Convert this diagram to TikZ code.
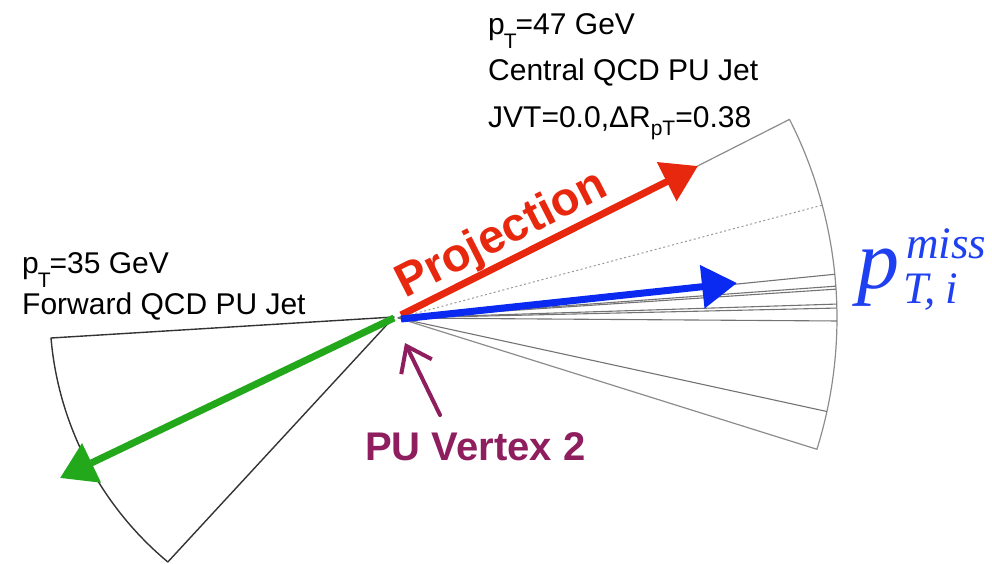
\documentclass[tikz,border=0pt]{standalone}
\usepackage{fontspec}
\setmainfont{Liberation Sans}
\newfontfamily\serifit{Liberation Serif}
\usetikzlibrary{arrows.meta}
\definecolor{projred}{HTML}{E8280E}
\definecolor{metblue}{HTML}{0A2AF2}
\definecolor{txtblue}{HTML}{1E40F0}
\definecolor{jetgreen}{HTML}{22A81A}
\definecolor{vtxpurple}{HTML}{8E1E5E}
\newcommand\subtxt[1]{\raisebox{-14pt}{\fontsize{21}{21}\selectfont #1}}
\begin{document}
\begin{tikzpicture}[x=1pt,y=-1pt,
  sectorR/.style={draw=black!45,line width=1.2pt,line join=round},
  innerline/.style={draw=black!55,line width=1.1pt},
  dotline/.style={draw=black!40,line width=1pt,dash pattern=on 2pt off 2.5pt},
  sectorL/.style={draw=black!80,line width=1.4pt,line join=round},
  fatarrow/.style={line width=7pt,-{Triangle[length=35pt,width=42pt]}},
  vtxarrow/.style={draw=vtxpurple,line width=4pt,line cap=round,-{Straight Barb[length=23pt,width=34pt]}},
  labeltxt/.style={anchor=base west,inner sep=0pt,font=\fontsize{30}{30}\selectfont}
]
\useasboundingbox (0,0) rectangle (992,564);
\coordinate (O) at (398,318);
\coordinate (OL) at (394,317);
% right sector
\draw[sectorR] (O) -- ++(-26.9:439) arc[start angle=-26.9,end angle=17.4,radius=439] -- cycle;
\draw[dotline] (O) -- ++(-14.9:439);
\foreach \a in {-5.72,-4.16,-3.77,-1.82,-1.30,0.39,12.3}
  \draw[innerline] (O) -- ++(\a:439);
% left sector
\draw[sectorL] (OL) -- (51,338) arc[start angle=175.1,end angle=129.8,radius=328] -- cycle;
% arrows
\coordinate (redtail) at (401,315);
\coordinate (redtip) at (698,166);
\coordinate (bluetail) at (401,319);
\coordinate (bluetip) at (737,283);
\coordinate (greentail) at (394,318);
\coordinate (greentip) at (60,478);
\draw[fatarrow,draw=jetgreen,fill=jetgreen] (greentail) -- (greentip);
\draw[fatarrow,draw=projred,fill=projred] (redtail) -- (redtip);
\draw[fatarrow,draw=metblue,fill=metblue] (bluetail) -- (bluetip);
% texts
\node[labeltxt] (t1) at (488,35) {p\kern-1pt\subtxt{T}\kern-1pt=47 GeV};
\node[labeltxt] (t2) at (488,81) {Central QCD PU Jet};
\node[labeltxt] (t3) at (488,128) {JVT=0.0,ΔR\raisebox{-8pt}{\fontsize{21}{21}\selectfont pT}=0.38};
\node[labeltxt] (t4) at (22,273) {p\kern-1pt\subtxt{T}\kern-1pt=35 GeV};
\node[labeltxt] (t5) at (22,314) {Forward QCD PU Jet};
\node[anchor=base west,inner sep=0pt,rotate=27,text=projred,font=\bfseries\fontsize{47}{47}\selectfont] (proj) at (405,299) {Projection};
\node[anchor=base west,inner sep=0pt,text=vtxpurple,font=\bfseries\fontsize{40}{40}\selectfont] (vtx) at (365,460) {PU Vertex 2};
\node[anchor=base west,inner sep=0pt,text=txtblue,font=\serifit\itshape] (pm) at (857,288)
  {\fontsize{84}{84}\selectfont p\fontsize{45}{45}\selectfont\rlap{\kern7pt\raisebox{30pt}{miss}}\kern4pt\raisebox{-15pt}{T,\kern9pt i}};
% vertex pointer
\coordinate (vtxtip) at (405,343);
\coordinate (vtxtail) at (440,415);
\draw[vtxarrow] (vtxtail) -- (vtxtip);
\end{tikzpicture}
\end{document}
